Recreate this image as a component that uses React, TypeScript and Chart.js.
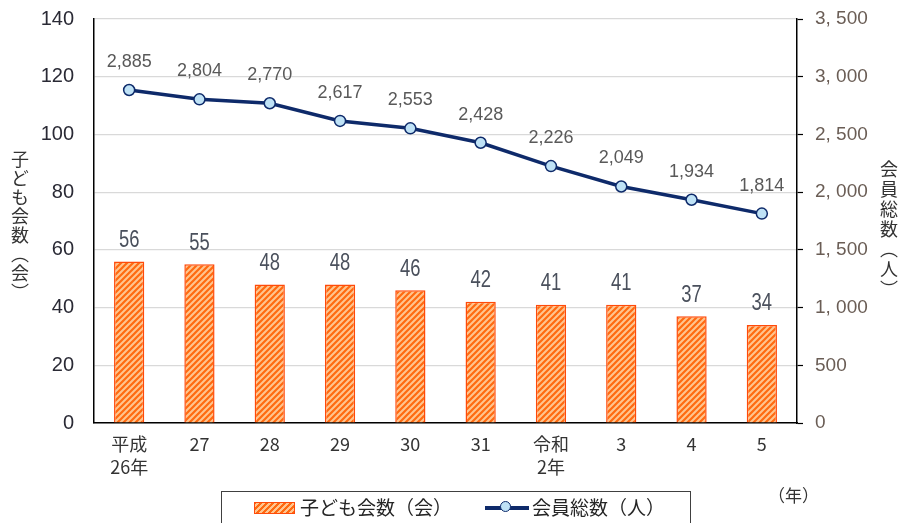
import React, { useEffect, useRef } from "react";
import { Chart, registerables } from "chart.js";

Chart.register(...registerables);

const categories: (string | string[])[] = [["平成", "26年"], "27", "28", "29", "30", "31", ["令和", "2年"], "3", "4", "5"];
const clubCounts = [56, 55, 48, 48, 46, 42, 41, 41, 37, 34];
const memberTotals = [2885, 2804, 2770, 2617, 2553, 2428, 2226, 2049, 1934, 1814];
const leftTicks = [0, 20, 40, 60, 80, 100, 120, 140];
const rightTicks = [0, 500, 1000, 1500, 2000, 2500, 3000, 3500];
const barLabel = "子ども会数（会）";
const lineLabel = "会員総数（人）";
const leftTitle = "子ども会数（会）";
const rightTitle = "会員総数（人）";
const yearUnit = "（年）";

const JP = '"Noto Sans CJK JP", "Noto Sans", sans-serif';
const LIB = '"Liberation Sans", Arial, sans-serif';

function makeHatch(): CanvasPattern | string {
  const c = document.createElement("canvas");
  c.width = 6;
  c.height = 6;
  const g = c.getContext("2d");
  if (!g) return "#ff8a3d";
  g.fillStyle = "#ffc58f";
  g.fillRect(0, 0, 6, 6);
  g.strokeStyle = "#ff6a10";
  g.lineWidth = 2.2;
  g.beginPath();
  g.moveTo(-1, 7);
  g.lineTo(7, -1);
  g.moveTo(-4, 4);
  g.lineTo(4, -4);
  g.moveTo(2, 10);
  g.lineTo(10, 2);
  g.stroke();
  const p = g.createPattern(c, "repeat");
  return p || "#ff8a3d";
}

const fmt = (v: number) => v.toLocaleString("en-US");

const labelPlugin = {
  id: "valueLabels",
  afterDatasetsDraw(chart: any) {
    const ctx = chart.ctx;
    ctx.save();
    ctx.textAlign = "center";
    ctx.textBaseline = "middle";
    const barMeta = chart.getDatasetMeta(0);
    ctx.font = `23px ${LIB}`;
    ctx.fillStyle = "#4a505c";
    barMeta.data.forEach((el: any, i: number) => {
      ctx.save();
      ctx.translate(el.x, el.y - 21);
      ctx.scale(0.8, 1);
      ctx.fillText(String(clubCounts[i]), 0, 0);
      ctx.restore();
    });
    const lineMeta = chart.getDatasetMeta(1);
    ctx.font = `18px ${LIB}`;
    ctx.fillStyle = "#595959";
    lineMeta.data.forEach((el: any, i: number) => {
      ctx.fillText(fmt(memberTotals[i]), el.x, el.y - 28);
    });
    ctx.restore();
  },
};

export default function App() {
  const ref = useRef<HTMLCanvasElement>(null);
  useEffect(() => {
    document.body.style.margin = "0";
    const canvas = ref.current;
    if (!canvas) return;
    const hatch = makeHatch();
    const chart = new Chart(canvas, {
      type: "bar",
      data: {
        labels: categories,
        datasets: [
          {
            type: "bar",
            label: barLabel,
            data: clubCounts,
            backgroundColor: hatch as any,
            borderColor: "#ff4a0a",
            borderWidth: 1.5,
            barPercentage: 0.43,
            categoryPercentage: 1,
            yAxisID: "y",
            order: 2,
          },
          {
            type: "line",
            label: lineLabel,
            data: memberTotals,
            borderColor: "#0e2a6a",
            borderWidth: 3.5,
            pointRadius: 5.5,
            pointBackgroundColor: "#bfe2f6",
            pointBorderColor: "#0e2a6a",
            pointBorderWidth: 1.5,
            yAxisID: "y1",
            order: 1,
            tension: 0,
          } as any,
        ],
      },
      options: {
        animation: false,
        responsive: false,
        maintainAspectRatio: false,
        layout: { padding: { top: 19, left: 0, right: 0, bottom: 0 } },
        plugins: { legend: { display: false }, tooltip: { enabled: false } },
        scales: {
          x: {
            grid: { display: false, drawTicks: false },
            border: { color: "#000", width: 1.5 },
            ticks: {
              color: "#333",
              font: { family: JP, size: 18, lineHeight: 1.28 },
              padding: 10,
              maxRotation: 0,
              autoSkip: false,
            },
            afterFit(scale: any) {
              scale.height = 100;
            },
          },
          y: {
            position: "left",
            min: 0,
            max: 140,
            afterBuildTicks(scale: any) {
              scale.ticks = leftTicks.map((v) => ({ value: v }));
            },
            grid: { color: "#d9d9d9", lineWidth: 1.2, drawTicks: false },
            border: { color: "#000", width: 1.5 },
            ticks: {
              color: "#2a2a35",
              font: { family: LIB, size: 20 },
              padding: 20,
            },
            afterFit(scale: any) {
              scale.width = 94;
              scale.paddingTop = 0;
              scale.paddingBottom = 0;
            },
          },
          y1: {
            position: "right",
            min: 0,
            max: 3500,
            afterBuildTicks(scale: any) {
              scale.ticks = rightTicks.map((v) => ({ value: v }));
            },
            grid: { drawOnChartArea: false, drawTicks: true, tickLength: 6, color: "#000", tickWidth: 1.2 },
            border: { color: "#000", width: 1.5 },
            ticks: {
              color: "#6a5d55",
              font: { family: LIB, size: 19 },
              padding: 12,
              callback: (v: any) => (Number(v) >= 1000 ? `${Math.floor(Number(v) / 1000)}, ${String(Number(v) % 1000).padStart(3, "0")}` : String(v)),
            },
            afterFit(scale: any) {
              scale.width = 108;
              scale.paddingTop = 0;
              scale.paddingBottom = 0;
            },
          },
        },
      },
      plugins: [labelPlugin],
    });
    return () => chart.destroy();
  }, []);

  const vtitle: React.CSSProperties = {
    position: "absolute",
    writingMode: "vertical-rl",
    fontFamily: JP,
    fontSize: 18,
    color: "#333",
    letterSpacing: 1,
    lineHeight: 1,
  };

  return (
    <div style={{ position: "relative", width: 905, height: 523, overflow: "hidden", background: "#fff", fontFamily: JP }}>
      <canvas ref={ref} width={905} height={523} style={{ position: "absolute", left: 0, top: 0, width: 905, height: 523 }} />
      <div style={{ ...vtitle, left: 11, top: 150 }}>{leftTitle}</div>
      <div style={{ ...vtitle, left: 880, top: 160, letterSpacing: 2 }}>{rightTitle}</div>
      <div style={{ position: "absolute", left: 768, top: 482, fontSize: 17, color: "#333" }}>{yearUnit}</div>
      <div
        style={{
          position: "absolute",
          left: 221,
          top: 491,
          width: 470,
          height: 50,
          border: "1.5px solid #404040",
          boxSizing: "border-box",
        }}
      >
        <div style={{ position: "absolute", left: 32, top: 10, width: 41, height: 12, boxSizing: "border-box", border: "1px solid #ff4a0a", background: "repeating-linear-gradient(-45deg, #ff6a10 0 2px, #ffc58f 2px 4.2px)" }} />
        <div style={{ position: "absolute", left: 78, top: 3, fontSize: 19, color: "#262626", lineHeight: "24px", whiteSpace: "nowrap" }}>{barLabel}</div>
        <div style={{ position: "absolute", left: 263, top: 14, width: 44, height: 4, background: "#0e2a6a" }} />
        <div style={{ position: "absolute", left: 278, top: 9, width: 11, height: 11, borderRadius: "50%", background: "#bfe2f6", border: "1.5px solid #0e2a6a", boxSizing: "border-box" }} />
        <div style={{ position: "absolute", left: 310, top: 3, fontSize: 19, color: "#262626", lineHeight: "24px", whiteSpace: "nowrap" }}>{lineLabel}</div>
      </div>
    </div>
  );
}
